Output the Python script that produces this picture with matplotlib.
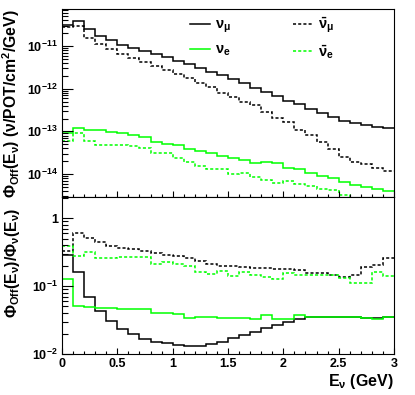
import numpy as np
import matplotlib
matplotlib.use("Agg")
import matplotlib.pyplot as plt
from matplotlib.ticker import FixedLocator, FixedFormatter, LogLocator, NullFormatter, MultipleLocator

plt.rcParams["font.family"] = ["Liberation Sans", "DejaVu Sans"]
plt.rcParams["font.weight"] = "bold"
plt.rcParams["mathtext.fontset"] = "custom"
plt.rcParams["mathtext.rm"] = "Liberation Sans:bold"
plt.rcParams["mathtext.it"] = "Liberation Sans:bold"
plt.rcParams["mathtext.bf"] = "Liberation Sans:bold"
plt.rcParams["mathtext.default"] = "bf"

# energy bins (GeV), 0.1 GeV wide
e_edges = np.linspace(0.0, 3.0, 31)

# off-axis flux (nu/POT/cm^2/GeV)
numu_flux = [3.10e-11, 3.92e-11, 2.50e-11, 1.71e-11, 1.41e-11, 1.07e-11, 9.1e-12, 7.5e-12,
             6.4e-12, 5.4e-12, 4.5e-12, 3.7e-12, 3.1e-12, 2.5e-12, 2.1e-12, 1.69e-12,
             1.38e-12, 1.06e-12, 8.5e-13, 6.7e-13, 5.2e-13, 4.3e-13, 3.4e-13, 2.75e-13,
             2.2e-13, 1.78e-13, 1.57e-13, 1.41e-13, 1.27e-13, 1.18e-13]
numubar_flux = [2.74e-11, 3.02e-11, 1.51e-11, 1.13e-11, 8.6e-12, 6.5e-12, 5.3e-12, 4.3e-12,
                3.4e-12, 2.74e-12, 2.21e-12, 1.81e-12, 1.34e-12, 1.08e-12, 7.8e-13, 6.3e-13,
                5.0e-13, 4.15e-13, 2.8e-13, 2.09e-13, 1.63e-13, 1.08e-13, 8.2e-14, 5.7e-14,
                3.8e-14, 2.56e-14, 1.95e-14, 1.70e-14, 1.37e-14, 1.2e-14]
nue_flux = [9.3e-14, 1.22e-13, 1.06e-13, 1.08e-13, 9.8e-14, 9.2e-14, 8.2e-14, 7.4e-14,
            5.7e-14, 5.15e-14, 4.8e-14, 3.87e-14, 3.53e-14, 3.17e-14, 2.7e-14, 2.42e-14,
            2.17e-14, 1.85e-14, 1.95e-14, 1.79e-14, 1.41e-14, 1.29e-14, 1.04e-14, 9.0e-15,
            8.0e-15, 6.6e-15, 5.6e-15, 5.07e-15, 4.48e-15, 4.0e-15]
nuebar_flux = [5.95e-14, 9.0e-14, 5.95e-14, 4.8e-14, 4.75e-14, 4.75e-14, 4.55e-14, 4.02e-14,
               3.17e-14, 3.17e-14, 2.34e-14, 1.95e-14, 1.57e-14, 1.32e-14, 1.32e-14, 9.9e-15,
               1.08e-14, 8.4e-15, 7.3e-15, 6.3e-15, 7.0e-15, 5.9e-15, 5.35e-15, 4.48e-15,
               4.25e-15, 3.24e-15, 2.5e-15, 2.5e-15, 2.5e-15, 2.5e-15]

# ratio off-axis / on-axis
numu_ratio = [0.286, 0.162, 0.0689, 0.0429, 0.0306, 0.0231, 0.0195, 0.0166, 0.0152, 0.0143,
              0.0136, 0.0131, 0.0131, 0.0139, 0.0152, 0.017, 0.019, 0.0213, 0.0239, 0.0267,
              0.0299, 0.0324, 0.0346, 0.035, 0.035, 0.035, 0.035, 0.0342, 0.0338, 0.035]
nue_ratio = [0.125, 0.0514, 0.0497, 0.048, 0.047, 0.0459, 0.0459, 0.0459, 0.0397, 0.0397,
             0.0384, 0.0342, 0.0345, 0.0345, 0.0342, 0.0335, 0.0335, 0.0324, 0.0375, 0.033,
             0.0324, 0.0375, 0.0354, 0.0354, 0.035, 0.035, 0.035, 0.0335, 0.0324, 0.0345]
numubar_ratio = [0.327, 0.595, 0.514, 0.439, 0.392, 0.366, 0.350, 0.327, 0.306, 0.286,
                 0.276, 0.258, 0.233, 0.214, 0.2, 0.195, 0.19, 0.187, 0.182, 0.176,
                 0.175, 0.172, 0.158, 0.153, 0.145, 0.137, 0.145, 0.192, 0.206, 0.255]
nuebar_ratio = [0.384, 0.273, 0.314, 0.255, 0.255, 0.27, 0.27, 0.27, 0.213, 0.228,
                0.211, 0.2, 0.162, 0.148, 0.166, 0.139, 0.161, 0.143, 0.136, 0.126,
                0.155, 0.145, 0.144, 0.144, 0.145, 0.131, 0.112, 0.112, 0.161, 0.141]

labels = [r"$\nu_{\mu}$", r"$\bar{\nu}_{\mu}$", r"$\nu_{e}$", r"$\bar{\nu}_{e}$"]
GREEN = "#00ff00"
DOT = (0, (2.0, 1.4))
LW = 1.1

fig = plt.figure(figsize=(4.15, 3.95), dpi=100)
ax1 = fig.add_axes([0.1494, 0.5013, 0.8, 0.476])
ax2 = fig.add_axes([0.1494, 0.1038, 0.8, 0.3975])

h_mu = ax1.stairs(numu_flux, e_edges, baseline=None, color="black", lw=LW, label=labels[0])
h_mubar = ax1.stairs(numubar_flux, e_edges, baseline=None, color="black", lw=LW, ls=DOT, label=labels[1])
h_e = ax1.stairs(nue_flux, e_edges, baseline=None, color=GREEN, lw=LW, label=labels[2])
h_ebar = ax1.stairs(nuebar_flux, e_edges, baseline=None, color=GREEN, lw=LW, ls=DOT, label=labels[3])

ax2.stairs(numu_ratio, e_edges, baseline=None, color="black", lw=LW)
ax2.stairs(numubar_ratio, e_edges, baseline=None, color="black", lw=LW, ls=DOT)
ax2.stairs(nue_ratio, e_edges, baseline=None, color=GREEN, lw=LW)
ax2.stairs(nuebar_ratio, e_edges, baseline=None, color=GREEN, lw=LW, ls=DOT)

for ax in (ax1, ax2):
    ax.set_yscale("log")
    ax.set_xlim(0, 3)
    ax.xaxis.set_major_locator(MultipleLocator(0.5))
    ax.xaxis.set_minor_locator(MultipleLocator(0.1))
    ax.yaxis.set_minor_locator(LogLocator(base=10, subs=np.arange(2, 10)))
    ax.yaxis.set_minor_formatter(NullFormatter())
    ax.tick_params(axis="both", which="both", direction="in", top=False, right=False,
                   labelsize=9, width=0.8)
    ax.tick_params(axis="y", which="major", length=8, pad=3)
    ax.tick_params(axis="y", which="minor", length=4.5)
    ax.tick_params(axis="x", which="major", length=4, pad=3)
    ax.tick_params(axis="x", which="minor", length=2)
    for s in ax.spines.values():
        s.set_linewidth(0.8)

ax1.set_ylim(2.9e-15, 7.4e-11)
ax1.yaxis.set_major_locator(FixedLocator([1e-14, 1e-13, 1e-12, 1e-11]))
ax1.yaxis.set_major_formatter(FixedFormatter([r"$10^{-14}$", r"$10^{-13}$", r"$10^{-12}$", r"$10^{-11}$"]))
ax1.tick_params(axis="x", labelbottom=False)
ax1.set_ylabel(r"$\Phi_{Off}(E_{\nu})$ ($\nu$/POT/cm$^{2}$/GeV)", fontsize=11.3,
               fontweight="bold", loc="top")
ax1.yaxis.set_label_coords(-0.12, 0.995)
ax1.legend(handles=[h_mu, h_e, h_mubar, h_ebar], ncol=2, frameon=False, loc="upper left",
           bbox_to_anchor=(0.385, 0.965), borderaxespad=0, borderpad=0, handlelength=1.4,
           handletextpad=0.35, columnspacing=4.2, labelspacing=0.55, fontsize=10.5)

ax2.set_ylim(0.01, 2.04)
ax2.yaxis.set_major_locator(FixedLocator([0.01, 0.1, 1]))
ax2.yaxis.set_major_formatter(FixedFormatter([r"$10^{-2}$", r"$10^{-1}$", "1"]))
ax2.set_xticks([0, 0.5, 1, 1.5, 2, 2.5, 3], ["0", "0.5", "1", "1.5", "2", "2.5", "3"])
ax2.set_ylabel(r"$\Phi_{Off}(E_{\nu})/\Phi_{\nu}(E_{\nu})$", fontsize=11.3, loc="top")
ax2.yaxis.set_label_coords(-0.12, 0.93)
ax2.set_xlabel(r"$E_{\nu}$ (GeV)", fontsize=11.5, fontweight="bold", loc="right", labelpad=1)

fig.savefig("out.png", dpi=100)
